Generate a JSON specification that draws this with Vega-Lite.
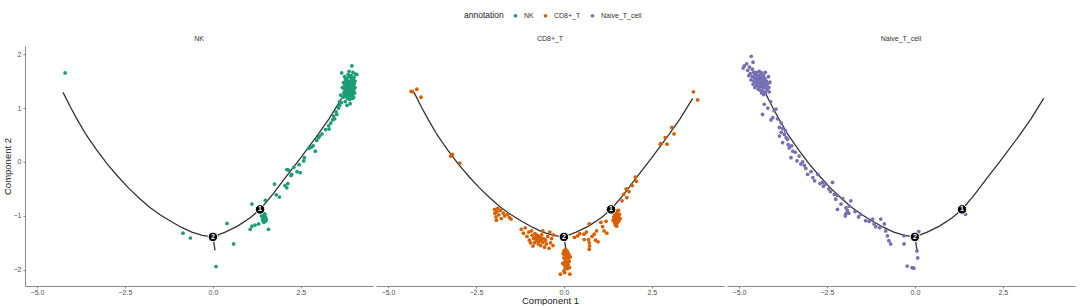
{
  "$schema": "https://vega.github.io/schema/vega-lite/v6.json",
  "autosize": {"type": "pad"},
  "padding": {"left": 2, "top": 12, "right": 2, "bottom": 0},
  "background": "white",
  "config": {
    "font": "Liberation Sans",
    "view": {"stroke": null},
    "axis": {"grid": false, "domainColor": "#8a8a8a", "domainWidth": 1, "tickColor": "#8a8a8a", "tickSize": 2, "labelFontSize": 7, "labelColor": "#4d4d4d", "labelPadding": 2, "titleFontSize": 9.5, "titleFontWeight": "normal", "titleColor": "#222222"},
    "axisX": {"labelPadding": 0},
    "title": {"fontSize": 7, "fontWeight": "normal", "color": "#333333", "offset": 4},
    "concat": {"spacing": 3},
    "legend": {"orient": "none", "legendX": 439, "legendY": -34, "direction": "horizontal", "titleOrient": "left", "titleFontSize": 8.5, "titleFontWeight": "normal", "titleColor": "#222222", "labelFontSize": 7, "labelColor": "#333333", "symbolSize": 14, "symbolType": "circle", "labelOffset": 5, "columnPadding": 8, "titlePadding": 8}
  },
  "datasets": {
    "tree": [
      {"seg": "main", "o": 1, "c1": -4.26, "c2": 1.29},
      {"seg": "main", "o": 2, "c1": -4.05, "c2": 1.02},
      {"seg": "main", "o": 3, "c1": -3.85, "c2": 0.78},
      {"seg": "main", "o": 4, "c1": -3.6, "c2": 0.5},
      {"seg": "main", "o": 5, "c1": -3.3, "c2": 0.22},
      {"seg": "main", "o": 6, "c1": -3.0, "c2": -0.04},
      {"seg": "main", "o": 7, "c1": -2.7, "c2": -0.27},
      {"seg": "main", "o": 8, "c1": -2.4, "c2": -0.48},
      {"seg": "main", "o": 9, "c1": -2.1, "c2": -0.67},
      {"seg": "main", "o": 10, "c1": -1.8, "c2": -0.84},
      {"seg": "main", "o": 11, "c1": -1.5, "c2": -0.98},
      {"seg": "main", "o": 12, "c1": -1.2, "c2": -1.1},
      {"seg": "main", "o": 13, "c1": -0.9, "c2": -1.21},
      {"seg": "main", "o": 14, "c1": -0.6, "c2": -1.3},
      {"seg": "main", "o": 15, "c1": -0.3, "c2": -1.36},
      {"seg": "main", "o": 16, "c1": 0.0, "c2": -1.39},
      {"seg": "main", "o": 17, "c1": 0.35, "c2": -1.3},
      {"seg": "main", "o": 18, "c1": 0.7, "c2": -1.19},
      {"seg": "main", "o": 19, "c1": 1.05, "c2": -1.04},
      {"seg": "main", "o": 20, "c1": 1.34, "c2": -0.88},
      {"seg": "main", "o": 21, "c1": 1.7, "c2": -0.6},
      {"seg": "main", "o": 22, "c1": 2.0, "c2": -0.34},
      {"seg": "main", "o": 23, "c1": 2.5, "c2": 0.08},
      {"seg": "main", "o": 24, "c1": 3.0, "c2": 0.52},
      {"seg": "main", "o": 25, "c1": 3.3, "c2": 0.8},
      {"seg": "main", "o": 26, "c1": 3.66, "c2": 1.18},
      {"seg": "branch", "o": 1, "c1": 0.0, "c2": -1.39},
      {"seg": "branch", "o": 2, "c1": 0.06, "c2": -1.64}
    ],
    "nodes": [
      {"node": "1", "c1": 1.34, "c2": -0.88},
      {"node": "2", "c1": 0.0, "c2": -1.39}
    ],
    "cells": [
      {"annotation": "NK", "c1": 3.70, "c2": 1.20}, {"annotation": "NK", "c1": 3.72, "c2": 1.28}, {"annotation": "NK", "c1": 3.74, "c2": 1.35}, {"annotation": "NK", "c1": 3.75, "c2": 1.42}, {"annotation": "NK", "c1": 3.76, "c2": 1.25},
      {"annotation": "NK", "c1": 3.78, "c2": 1.31}, {"annotation": "NK", "c1": 3.78, "c2": 1.48}, {"annotation": "NK", "c1": 3.79, "c2": 1.38}, {"annotation": "NK", "c1": 3.80, "c2": 1.22}, {"annotation": "NK", "c1": 3.80, "c2": 1.55},
      {"annotation": "NK", "c1": 3.81, "c2": 1.33}, {"annotation": "NK", "c1": 3.82, "c2": 1.44}, {"annotation": "NK", "c1": 3.83, "c2": 1.27}, {"annotation": "NK", "c1": 3.83, "c2": 1.36}, {"annotation": "NK", "c1": 3.84, "c2": 1.50},
      {"annotation": "NK", "c1": 3.85, "c2": 1.30}, {"annotation": "NK", "c1": 3.85, "c2": 1.40}, {"annotation": "NK", "c1": 3.86, "c2": 1.24}, {"annotation": "NK", "c1": 3.86, "c2": 1.46}, {"annotation": "NK", "c1": 3.87, "c2": 1.35},
      {"annotation": "NK", "c1": 3.87, "c2": 1.58}, {"annotation": "NK", "c1": 3.88, "c2": 1.29}, {"annotation": "NK", "c1": 3.88, "c2": 1.42}, {"annotation": "NK", "c1": 3.89, "c2": 1.37}, {"annotation": "NK", "c1": 3.90, "c2": 1.22},
      {"annotation": "NK", "c1": 3.90, "c2": 1.50}, {"annotation": "NK", "c1": 3.91, "c2": 1.32}, {"annotation": "NK", "c1": 3.92, "c2": 1.44}, {"annotation": "NK", "c1": 3.92, "c2": 1.27}, {"annotation": "NK", "c1": 3.93, "c2": 1.38},
      {"annotation": "NK", "c1": 3.94, "c2": 1.55}, {"annotation": "NK", "c1": 3.95, "c2": 1.30}, {"annotation": "NK", "c1": 3.95, "c2": 1.47}, {"annotation": "NK", "c1": 3.96, "c2": 1.36}, {"annotation": "NK", "c1": 3.97, "c2": 1.25},
      {"annotation": "NK", "c1": 3.98, "c2": 1.41}, {"annotation": "NK", "c1": 3.99, "c2": 1.52}, {"annotation": "NK", "c1": 4.00, "c2": 1.33}, {"annotation": "NK", "c1": 4.02, "c2": 1.45}, {"annotation": "NK", "c1": 4.03, "c2": 1.28},
      {"annotation": "NK", "c1": 3.68, "c2": 1.38}, {"annotation": "NK", "c1": 3.71, "c2": 1.47}, {"annotation": "NK", "c1": 3.73, "c2": 1.22}, {"annotation": "NK", "c1": 3.77, "c2": 1.53}, {"annotation": "NK", "c1": 3.82, "c2": 1.18},
      {"annotation": "NK", "c1": 3.84, "c2": 1.62}, {"annotation": "NK", "c1": 3.89, "c2": 1.16}, {"annotation": "NK", "c1": 3.93, "c2": 1.60}, {"annotation": "NK", "c1": 3.97, "c2": 1.18}, {"annotation": "NK", "c1": 4.01, "c2": 1.57},
      {"annotation": "NK", "c1": 4.04, "c2": 1.38}, {"annotation": "NK", "c1": 4.05, "c2": 1.63}, {"annotation": "NK", "c1": 3.95, "c2": 1.78}, {"annotation": "NK", "c1": 3.66, "c2": 1.65}, {"annotation": "NK", "c1": 4.09, "c2": 1.62},
      {"annotation": "NK", "c1": 3.81, "c2": 1.05}, {"annotation": "NK", "c1": 3.60, "c2": 1.12}, {"annotation": "NK", "c1": 3.63, "c2": 1.24}, {"annotation": "NK", "c1": 3.87, "c2": 1.68}, {"annotation": "NK", "c1": 3.76, "c2": 1.12},
      {"annotation": "NK", "c1": 4.00, "c2": 1.20}, {"annotation": "NK", "c1": 4.04, "c2": 1.50}, {"annotation": "NK", "c1": 3.74, "c2": 1.58}, {"annotation": "NK", "c1": 3.90, "c2": 1.08}, {"annotation": "NK", "c1": 3.98, "c2": 1.66},
      {"annotation": "NK", "c1": 3.57, "c2": 1.00}, {"annotation": "NK", "c1": 3.50, "c2": 0.93}, {"annotation": "NK", "c1": 3.52, "c2": 0.88}, {"annotation": "NK", "c1": 3.43, "c2": 0.85}, {"annotation": "NK", "c1": 3.46, "c2": 0.80},
      {"annotation": "NK", "c1": 3.35, "c2": 0.72}, {"annotation": "NK", "c1": 3.29, "c2": 0.67}, {"annotation": "NK", "c1": 3.30, "c2": 0.61}, {"annotation": "NK", "c1": 3.10, "c2": 0.52}, {"annotation": "NK", "c1": 3.03, "c2": 0.48},
      {"annotation": "NK", "c1": 3.00, "c2": 0.45}, {"annotation": "NK", "c1": 2.95, "c2": 0.40}, {"annotation": "NK", "c1": 2.91, "c2": 0.20}, {"annotation": "NK", "c1": 2.85, "c2": 0.30}, {"annotation": "NK", "c1": 2.79, "c2": 0.27},
      {"annotation": "NK", "c1": 2.72, "c2": 0.25}, {"annotation": "NK", "c1": 2.60, "c2": 0.08}, {"annotation": "NK", "c1": 2.58, "c2": 0.02}, {"annotation": "NK", "c1": 2.48, "c2": -0.20}, {"annotation": "NK", "c1": 2.45, "c2": -0.05},
      {"annotation": "NK", "c1": 2.39, "c2": -0.18}, {"annotation": "NK", "c1": 2.30, "c2": -0.10}, {"annotation": "NK", "c1": 2.24, "c2": -0.23}, {"annotation": "NK", "c1": 2.22, "c2": -0.25}, {"annotation": "NK", "c1": 2.15, "c2": -0.15},
      {"annotation": "NK", "c1": 2.13, "c2": -0.40}, {"annotation": "NK", "c1": 2.10, "c2": -0.14}, {"annotation": "NK", "c1": 2.05, "c2": -0.44}, {"annotation": "NK", "c1": 2.10, "c2": -0.48}, {"annotation": "NK", "c1": 1.89, "c2": -0.65},
      {"annotation": "NK", "c1": 1.80, "c2": -0.61}, {"annotation": "NK", "c1": 1.75, "c2": -0.41}, {"annotation": "NK", "c1": 1.49, "c2": -0.71}, {"annotation": "NK", "c1": 1.11, "c2": -0.78}, {"annotation": "NK", "c1": 3.60, "c2": 1.05},
      {"annotation": "NK", "c1": 3.65, "c2": 1.10}, {"annotation": "NK", "c1": 3.40, "c2": 0.78}, {"annotation": "NK", "c1": 3.20, "c2": 0.60},
      {"annotation": "NK", "c1": 1.40, "c2": -0.98}, {"annotation": "NK", "c1": 1.42, "c2": -1.02}, {"annotation": "NK", "c1": 1.44, "c2": -0.95}, {"annotation": "NK", "c1": 1.45, "c2": -1.05}, {"annotation": "NK", "c1": 1.46, "c2": -1.00},
      {"annotation": "NK", "c1": 1.47, "c2": -1.08}, {"annotation": "NK", "c1": 1.43, "c2": -1.10}, {"annotation": "NK", "c1": 1.48, "c2": -0.97}, {"annotation": "NK", "c1": 1.50, "c2": -1.03}, {"annotation": "NK", "c1": 1.41, "c2": -1.06},
      {"annotation": "NK", "c1": 1.45, "c2": -1.12}, {"annotation": "NK", "c1": 1.52, "c2": -1.07}, {"annotation": "NK", "c1": 1.38, "c2": -1.00}, {"annotation": "NK", "c1": 1.49, "c2": -1.10},
      {"annotation": "NK", "c1": 1.58, "c2": -1.25}, {"annotation": "NK", "c1": 1.20, "c2": -1.17}, {"annotation": "NK", "c1": 1.11, "c2": -1.19}, {"annotation": "NK", "c1": 1.06, "c2": -1.25}, {"annotation": "NK", "c1": 0.40, "c2": -1.14},
      {"annotation": "NK", "c1": 0.59, "c2": -1.52}, {"annotation": "NK", "c1": 0.09, "c2": -1.94}, {"annotation": "NK", "c1": -0.64, "c2": -1.41}, {"annotation": "NK", "c1": -0.85, "c2": -1.32}, {"annotation": "NK", "c1": 0.12, "c2": -1.37},
      {"annotation": "NK", "c1": -4.2, "c2": 1.65}, {"annotation": "NK", "c1": 1.30, "c2": -1.15},

      {"annotation": "CD8+_T", "c1": -4.34, "c2": 1.31}, {"annotation": "CD8+_T", "c1": -4.30, "c2": 1.30}, {"annotation": "CD8+_T", "c1": -4.18, "c2": 1.35}, {"annotation": "CD8+_T", "c1": -4.06, "c2": 1.20},
      {"annotation": "CD8+_T", "c1": -3.22, "c2": 0.11}, {"annotation": "CD8+_T", "c1": -3.17, "c2": 0.14}, {"annotation": "CD8+_T", "c1": -2.96, "c2": -0.02},
      {"annotation": "CD8+_T", "c1": -1.97, "c2": -0.88}, {"annotation": "CD8+_T", "c1": -1.96, "c2": -0.95}, {"annotation": "CD8+_T", "c1": -1.93, "c2": -1.02}, {"annotation": "CD8+_T", "c1": -1.90, "c2": -0.92}, {"annotation": "CD8+_T", "c1": -1.88, "c2": -0.86},
      {"annotation": "CD8+_T", "c1": -1.85, "c2": -0.98}, {"annotation": "CD8+_T", "c1": -1.80, "c2": -0.90}, {"annotation": "CD8+_T", "c1": -1.72, "c2": -0.95}, {"annotation": "CD8+_T", "c1": -1.68, "c2": -1.00}, {"annotation": "CD8+_T", "c1": -1.60, "c2": -0.97},
      {"annotation": "CD8+_T", "c1": -1.55, "c2": -1.03}, {"annotation": "CD8+_T", "c1": -1.50, "c2": -1.06}, {"annotation": "CD8+_T", "c1": -1.92, "c2": -1.08}, {"annotation": "CD8+_T", "c1": -1.78, "c2": -1.05},
      {"annotation": "CD8+_T", "c1": -1.21, "c2": -1.25}, {"annotation": "CD8+_T", "c1": -1.15, "c2": -1.32}, {"annotation": "CD8+_T", "c1": -1.10, "c2": -1.22}, {"annotation": "CD8+_T", "c1": -1.05, "c2": -1.38}, {"annotation": "CD8+_T", "c1": -1.00, "c2": -1.30},
      {"annotation": "CD8+_T", "c1": -0.98, "c2": -1.45}, {"annotation": "CD8+_T", "c1": -0.92, "c2": -1.28}, {"annotation": "CD8+_T", "c1": -0.90, "c2": -1.36}, {"annotation": "CD8+_T", "c1": -0.86, "c2": -1.42}, {"annotation": "CD8+_T", "c1": -0.84, "c2": -1.50},
      {"annotation": "CD8+_T", "c1": -0.82, "c2": -1.33}, {"annotation": "CD8+_T", "c1": -0.80, "c2": -1.40}, {"annotation": "CD8+_T", "c1": -0.78, "c2": -1.46}, {"annotation": "CD8+_T", "c1": -0.76, "c2": -1.36}, {"annotation": "CD8+_T", "c1": -0.74, "c2": -1.43},
      {"annotation": "CD8+_T", "c1": -0.73, "c2": -1.52}, {"annotation": "CD8+_T", "c1": -0.72, "c2": -1.38}, {"annotation": "CD8+_T", "c1": -0.70, "c2": -1.47}, {"annotation": "CD8+_T", "c1": -0.68, "c2": -1.40}, {"annotation": "CD8+_T", "c1": -0.66, "c2": -1.55},
      {"annotation": "CD8+_T", "c1": -0.65, "c2": -1.44}, {"annotation": "CD8+_T", "c1": -0.63, "c2": -1.35}, {"annotation": "CD8+_T", "c1": -0.60, "c2": -1.49}, {"annotation": "CD8+_T", "c1": -0.58, "c2": -1.42}, {"annotation": "CD8+_T", "c1": -0.55, "c2": -1.58},
      {"annotation": "CD8+_T", "c1": -0.52, "c2": -1.45}, {"annotation": "CD8+_T", "c1": -0.50, "c2": -1.52}, {"annotation": "CD8+_T", "c1": -0.46, "c2": -1.38}, {"annotation": "CD8+_T", "c1": -0.42, "c2": -1.60}, {"annotation": "CD8+_T", "c1": -0.38, "c2": -1.50},
      {"annotation": "CD8+_T", "c1": -0.35, "c2": -1.42}, {"annotation": "CD8+_T", "c1": -0.31, "c2": -1.55}, {"annotation": "CD8+_T", "c1": -0.40, "c2": -1.30}, {"annotation": "CD8+_T", "c1": -0.60, "c2": -1.28}, {"annotation": "CD8+_T", "c1": -0.88, "c2": -1.56},
      {"annotation": "CD8+_T", "c1": -0.95, "c2": -1.50}, {"annotation": "CD8+_T", "c1": -0.30, "c2": -1.35},
      {"annotation": "CD8+_T", "c1": 0.00, "c2": -1.65}, {"annotation": "CD8+_T", "c1": 0.05, "c2": -1.68}, {"annotation": "CD8+_T", "c1": 0.10, "c2": -1.66}, {"annotation": "CD8+_T", "c1": 0.02, "c2": -1.72}, {"annotation": "CD8+_T", "c1": 0.08, "c2": -1.74},
      {"annotation": "CD8+_T", "c1": 0.14, "c2": -1.71}, {"annotation": "CD8+_T", "c1": 0.00, "c2": -1.78}, {"annotation": "CD8+_T", "c1": 0.06, "c2": -1.80}, {"annotation": "CD8+_T", "c1": 0.12, "c2": -1.78}, {"annotation": "CD8+_T", "c1": 0.03, "c2": -1.85},
      {"annotation": "CD8+_T", "c1": 0.09, "c2": -1.86}, {"annotation": "CD8+_T", "c1": 0.15, "c2": -1.84}, {"annotation": "CD8+_T", "c1": 0.01, "c2": -1.91}, {"annotation": "CD8+_T", "c1": 0.07, "c2": -1.93}, {"annotation": "CD8+_T", "c1": 0.12, "c2": -1.90},
      {"annotation": "CD8+_T", "c1": 0.04, "c2": -1.97}, {"annotation": "CD8+_T", "c1": 0.10, "c2": -1.98}, {"annotation": "CD8+_T", "c1": 0.00, "c2": -2.02}, {"annotation": "CD8+_T", "c1": 0.16, "c2": -1.96}, {"annotation": "CD8+_T", "c1": -0.02, "c2": -1.70},
      {"annotation": "CD8+_T", "c1": 0.18, "c2": -1.76}, {"annotation": "CD8+_T", "c1": 0.05, "c2": -1.62}, {"annotation": "CD8+_T", "c1": -0.03, "c2": -1.88}, {"annotation": "CD8+_T", "c1": -0.10, "c2": -2.08}, {"annotation": "CD8+_T", "c1": 0.17, "c2": -2.08},
      {"annotation": "CD8+_T", "c1": 0.02, "c2": -2.05},
      {"annotation": "CD8+_T", "c1": 0.30, "c2": -1.40}, {"annotation": "CD8+_T", "c1": 0.39, "c2": -1.37}, {"annotation": "CD8+_T", "c1": 0.45, "c2": -1.33}, {"annotation": "CD8+_T", "c1": 0.57, "c2": -1.34}, {"annotation": "CD8+_T", "c1": 0.64, "c2": -1.30},
      {"annotation": "CD8+_T", "c1": 0.70, "c2": -1.44}, {"annotation": "CD8+_T", "c1": 0.72, "c2": -1.50}, {"annotation": "CD8+_T", "c1": 0.73, "c2": -1.56}, {"annotation": "CD8+_T", "c1": 0.72, "c2": -1.62}, {"annotation": "CD8+_T", "c1": 0.80, "c2": -1.38},
      {"annotation": "CD8+_T", "c1": 0.86, "c2": -1.34}, {"annotation": "CD8+_T", "c1": 0.90, "c2": -1.45}, {"annotation": "CD8+_T", "c1": 0.93, "c2": -1.28}, {"annotation": "CD8+_T", "c1": 0.72, "c2": -1.15}, {"annotation": "CD8+_T", "c1": 1.05, "c2": -1.12},
      {"annotation": "CD8+_T", "c1": 1.10, "c2": -1.20}, {"annotation": "CD8+_T", "c1": 1.14, "c2": -1.28}, {"annotation": "CD8+_T", "c1": 1.20, "c2": -1.10}, {"annotation": "CD8+_T", "c1": 0.97, "c2": -1.48}, {"annotation": "CD8+_T", "c1": 0.58, "c2": -1.44},
      {"annotation": "CD8+_T", "c1": 1.22, "c2": -1.32},
      {"annotation": "CD8+_T", "c1": 1.40, "c2": -0.92}, {"annotation": "CD8+_T", "c1": 1.43, "c2": -0.96}, {"annotation": "CD8+_T", "c1": 1.46, "c2": -0.90}, {"annotation": "CD8+_T", "c1": 1.48, "c2": -0.98}, {"annotation": "CD8+_T", "c1": 1.50, "c2": -0.94},
      {"annotation": "CD8+_T", "c1": 1.52, "c2": -1.00}, {"annotation": "CD8+_T", "c1": 1.42, "c2": -1.02}, {"annotation": "CD8+_T", "c1": 1.45, "c2": -1.05}, {"annotation": "CD8+_T", "c1": 1.47, "c2": -1.08}, {"annotation": "CD8+_T", "c1": 1.50, "c2": -1.04},
      {"annotation": "CD8+_T", "c1": 1.53, "c2": -1.08}, {"annotation": "CD8+_T", "c1": 1.55, "c2": -1.02}, {"annotation": "CD8+_T", "c1": 1.44, "c2": -1.12}, {"annotation": "CD8+_T", "c1": 1.48, "c2": -1.14}, {"annotation": "CD8+_T", "c1": 1.52, "c2": -1.13},
      {"annotation": "CD8+_T", "c1": 1.56, "c2": -1.10}, {"annotation": "CD8+_T", "c1": 1.46, "c2": -1.17}, {"annotation": "CD8+_T", "c1": 1.50, "c2": -1.19}, {"annotation": "CD8+_T", "c1": 1.58, "c2": -0.97}, {"annotation": "CD8+_T", "c1": 1.40, "c2": -1.08},
      {"annotation": "CD8+_T", "c1": 1.55, "c2": -0.90}, {"annotation": "CD8+_T", "c1": 1.60, "c2": -1.05},
      {"annotation": "CD8+_T", "c1": 1.70, "c2": -0.60}, {"annotation": "CD8+_T", "c1": 1.77, "c2": -0.50}, {"annotation": "CD8+_T", "c1": 1.79, "c2": -0.66}, {"annotation": "CD8+_T", "c1": 1.85, "c2": -0.55}, {"annotation": "CD8+_T", "c1": 1.94, "c2": -0.44},
      {"annotation": "CD8+_T", "c1": 2.03, "c2": -0.28}, {"annotation": "CD8+_T", "c1": 2.06, "c2": -0.36}, {"annotation": "CD8+_T", "c1": 2.74, "c2": 0.33}, {"annotation": "CD8+_T", "c1": 2.76, "c2": 0.34}, {"annotation": "CD8+_T", "c1": 2.88, "c2": 0.45},
      {"annotation": "CD8+_T", "c1": 2.93, "c2": 0.33}, {"annotation": "CD8+_T", "c1": 3.07, "c2": 0.64}, {"annotation": "CD8+_T", "c1": 3.13, "c2": 0.52}, {"annotation": "CD8+_T", "c1": 1.65, "c2": -0.72}, {"annotation": "CD8+_T", "c1": 3.68, "c2": 1.30},
      {"annotation": "CD8+_T", "c1": 3.80, "c2": 1.15},

      {"annotation": "Naive_T_cell", "c1": -4.65, "c2": 1.96}, {"annotation": "Naive_T_cell", "c1": -4.78, "c2": 1.82}, {"annotation": "Naive_T_cell", "c1": -4.85, "c2": 1.78}, {"annotation": "Naive_T_cell", "c1": -4.70, "c2": 1.76}, {"annotation": "Naive_T_cell", "c1": -4.75, "c2": 1.70},
      {"annotation": "Naive_T_cell", "c1": -4.62, "c2": 1.72}, {"annotation": "Naive_T_cell", "c1": -4.58, "c2": 1.66}, {"annotation": "Naive_T_cell", "c1": -4.68, "c2": 1.64}, {"annotation": "Naive_T_cell", "c1": -4.55, "c2": 1.62}, {"annotation": "Naive_T_cell", "c1": -4.50, "c2": 1.60},
      {"annotation": "Naive_T_cell", "c1": -4.62, "c2": 1.58}, {"annotation": "Naive_T_cell", "c1": -4.45, "c2": 1.58}, {"annotation": "Naive_T_cell", "c1": -4.40, "c2": 1.62}, {"annotation": "Naive_T_cell", "c1": -4.35, "c2": 1.65}, {"annotation": "Naive_T_cell", "c1": -4.30, "c2": 1.60},
      {"annotation": "Naive_T_cell", "c1": -4.55, "c2": 1.55}, {"annotation": "Naive_T_cell", "c1": -4.48, "c2": 1.53}, {"annotation": "Naive_T_cell", "c1": -4.42, "c2": 1.55}, {"annotation": "Naive_T_cell", "c1": -4.38, "c2": 1.52}, {"annotation": "Naive_T_cell", "c1": -4.32, "c2": 1.55},
      {"annotation": "Naive_T_cell", "c1": -4.26, "c2": 1.55}, {"annotation": "Naive_T_cell", "c1": -4.22, "c2": 1.50}, {"annotation": "Naive_T_cell", "c1": -4.58, "c2": 1.50}, {"annotation": "Naive_T_cell", "c1": -4.52, "c2": 1.48}, {"annotation": "Naive_T_cell", "c1": -4.46, "c2": 1.47},
      {"annotation": "Naive_T_cell", "c1": -4.40, "c2": 1.46}, {"annotation": "Naive_T_cell", "c1": -4.35, "c2": 1.48}, {"annotation": "Naive_T_cell", "c1": -4.28, "c2": 1.45}, {"annotation": "Naive_T_cell", "c1": -4.22, "c2": 1.42}, {"annotation": "Naive_T_cell", "c1": -4.50, "c2": 1.42},
      {"annotation": "Naive_T_cell", "c1": -4.44, "c2": 1.40}, {"annotation": "Naive_T_cell", "c1": -4.38, "c2": 1.40}, {"annotation": "Naive_T_cell", "c1": -4.32, "c2": 1.38}, {"annotation": "Naive_T_cell", "c1": -4.26, "c2": 1.38}, {"annotation": "Naive_T_cell", "c1": -4.18, "c2": 1.45},
      {"annotation": "Naive_T_cell", "c1": -4.45, "c2": 1.35}, {"annotation": "Naive_T_cell", "c1": -4.40, "c2": 1.33}, {"annotation": "Naive_T_cell", "c1": -4.34, "c2": 1.32}, {"annotation": "Naive_T_cell", "c1": -4.28, "c2": 1.30}, {"annotation": "Naive_T_cell", "c1": -4.20, "c2": 1.34},
      {"annotation": "Naive_T_cell", "c1": -4.12, "c2": 1.48}, {"annotation": "Naive_T_cell", "c1": -4.15, "c2": 1.38}, {"annotation": "Naive_T_cell", "c1": -4.60, "c2": 1.44}, {"annotation": "Naive_T_cell", "c1": -4.36, "c2": 1.28}, {"annotation": "Naive_T_cell", "c1": -4.30, "c2": 1.25},
      {"annotation": "Naive_T_cell", "c1": -4.50, "c2": 1.66}, {"annotation": "Naive_T_cell", "c1": -4.42, "c2": 1.68}, {"annotation": "Naive_T_cell", "c1": -4.72, "c2": 1.60}, {"annotation": "Naive_T_cell", "c1": -4.66, "c2": 1.52}, {"annotation": "Naive_T_cell", "c1": -4.25, "c2": 1.66},
      {"annotation": "Naive_T_cell", "c1": -4.16, "c2": 1.58}, {"annotation": "Naive_T_cell", "c1": -4.55, "c2": 1.38}, {"annotation": "Naive_T_cell", "c1": -4.33, "c2": 1.43}, {"annotation": "Naive_T_cell", "c1": -4.47, "c2": 1.51}, {"annotation": "Naive_T_cell", "c1": -4.39, "c2": 1.58},
      {"annotation": "Naive_T_cell", "c1": -4.27, "c2": 1.51}, {"annotation": "Naive_T_cell", "c1": -4.60, "c2": 1.85}, {"annotation": "Naive_T_cell", "c1": -4.88, "c2": 1.74}, {"annotation": "Naive_T_cell", "c1": -4.24, "c2": 1.28}, {"annotation": "Naive_T_cell", "c1": -4.14, "c2": 1.30},
      {"annotation": "Naive_T_cell", "c1": -4.28, "c2": 1.07}, {"annotation": "Naive_T_cell", "c1": -4.33, "c2": 0.88}, {"annotation": "Naive_T_cell", "c1": -4.04, "c2": 0.82}, {"annotation": "Naive_T_cell", "c1": -4.09, "c2": 0.78}, {"annotation": "Naive_T_cell", "c1": -3.95, "c2": 0.98},
      {"annotation": "Naive_T_cell", "c1": -3.85, "c2": 0.64}, {"annotation": "Naive_T_cell", "c1": -3.76, "c2": 0.62}, {"annotation": "Naive_T_cell", "c1": -3.85, "c2": 0.48}, {"annotation": "Naive_T_cell", "c1": -3.71, "c2": 0.51}, {"annotation": "Naive_T_cell", "c1": -3.76, "c2": 0.36},
      {"annotation": "Naive_T_cell", "c1": -3.62, "c2": 0.42}, {"annotation": "Naive_T_cell", "c1": -3.57, "c2": 0.26}, {"annotation": "Naive_T_cell", "c1": -3.52, "c2": 0.08}, {"annotation": "Naive_T_cell", "c1": -3.47, "c2": 0.20}, {"annotation": "Naive_T_cell", "c1": -3.29, "c2": 0.11},
      {"annotation": "Naive_T_cell", "c1": -3.24, "c2": -0.04}, {"annotation": "Naive_T_cell", "c1": -3.19, "c2": 0.00}, {"annotation": "Naive_T_cell", "c1": -3.14, "c2": -0.07}, {"annotation": "Naive_T_cell", "c1": -3.05, "c2": -0.23}, {"annotation": "Naive_T_cell", "c1": -2.90, "c2": -0.29},
      {"annotation": "Naive_T_cell", "c1": -2.76, "c2": -0.23}, {"annotation": "Naive_T_cell", "c1": -2.63, "c2": -0.38}, {"annotation": "Naive_T_cell", "c1": -2.53, "c2": -0.41}, {"annotation": "Naive_T_cell", "c1": -2.34, "c2": -0.38}, {"annotation": "Naive_T_cell", "c1": -2.29, "c2": -0.60},
      {"annotation": "Naive_T_cell", "c1": -2.20, "c2": -0.62}, {"annotation": "Naive_T_cell", "c1": -2.25, "c2": -0.69}, {"annotation": "Naive_T_cell", "c1": -2.20, "c2": -0.88}, {"annotation": "Naive_T_cell", "c1": -1.96, "c2": -0.85}, {"annotation": "Naive_T_cell", "c1": -1.96, "c2": -0.96},
      {"annotation": "Naive_T_cell", "c1": -1.92, "c2": -0.90}, {"annotation": "Naive_T_cell", "c1": -1.82, "c2": -0.72}, {"annotation": "Naive_T_cell", "c1": -1.87, "c2": -0.82}, {"annotation": "Naive_T_cell", "c1": -1.54, "c2": -0.97}, {"annotation": "Naive_T_cell", "c1": -1.40, "c2": -1.09},
      {"annotation": "Naive_T_cell", "c1": -1.20, "c2": -1.06}, {"annotation": "Naive_T_cell", "c1": -1.16, "c2": -1.15}, {"annotation": "Naive_T_cell", "c1": -1.11, "c2": -1.20}, {"annotation": "Naive_T_cell", "c1": -0.97, "c2": -1.06}, {"annotation": "Naive_T_cell", "c1": -0.87, "c2": -1.15},
      {"annotation": "Naive_T_cell", "c1": -0.83, "c2": -1.28}, {"annotation": "Naive_T_cell", "c1": -0.78, "c2": -1.37}, {"annotation": "Naive_T_cell", "c1": -0.74, "c2": -1.46}, {"annotation": "Naive_T_cell", "c1": -0.69, "c2": -1.52}, {"annotation": "Naive_T_cell", "c1": -0.31, "c2": -1.52},
      {"annotation": "Naive_T_cell", "c1": -0.31, "c2": -1.37}, {"annotation": "Naive_T_cell", "c1": 0.11, "c2": -1.29}, {"annotation": "Naive_T_cell", "c1": -0.22, "c2": -1.93}, {"annotation": "Naive_T_cell", "c1": -0.08, "c2": -1.96}, {"annotation": "Naive_T_cell", "c1": -0.03, "c2": -1.97},
      {"annotation": "Naive_T_cell", "c1": 0.08, "c2": -1.78}, {"annotation": "Naive_T_cell", "c1": 0.06, "c2": -1.65}, {"annotation": "Naive_T_cell", "c1": 1.44, "c2": -0.97},
      {"annotation": "Naive_T_cell", "c1": -4.10, "c2": 1.12}, {"annotation": "Naive_T_cell", "c1": -4.00, "c2": 0.95}, {"annotation": "Naive_T_cell", "c1": -3.90, "c2": 0.80}, {"annotation": "Naive_T_cell", "c1": -3.80, "c2": 0.72}, {"annotation": "Naive_T_cell", "c1": -3.68, "c2": 0.58},
      {"annotation": "Naive_T_cell", "c1": -3.60, "c2": 0.32}, {"annotation": "Naive_T_cell", "c1": -3.40, "c2": 0.18}, {"annotation": "Naive_T_cell", "c1": -3.35, "c2": 0.02}, {"annotation": "Naive_T_cell", "c1": -3.10, "c2": -0.12}, {"annotation": "Naive_T_cell", "c1": -2.95, "c2": -0.18},
      {"annotation": "Naive_T_cell", "c1": -2.85, "c2": -0.35}, {"annotation": "Naive_T_cell", "c1": -2.70, "c2": -0.40}, {"annotation": "Naive_T_cell", "c1": -2.45, "c2": -0.50}, {"annotation": "Naive_T_cell", "c1": -2.40, "c2": -0.55}, {"annotation": "Naive_T_cell", "c1": -2.10, "c2": -0.78},
      {"annotation": "Naive_T_cell", "c1": -2.05, "c2": -0.68}, {"annotation": "Naive_T_cell", "c1": -1.70, "c2": -0.92}, {"annotation": "Naive_T_cell", "c1": -1.60, "c2": -1.02}, {"annotation": "Naive_T_cell", "c1": -1.30, "c2": -1.10}, {"annotation": "Naive_T_cell", "c1": -1.00, "c2": -1.22},
      {"annotation": "Naive_T_cell", "c1": -3.50, "c2": 0.30}, {"annotation": "Naive_T_cell", "c1": -3.80, "c2": 0.55}, {"annotation": "Naive_T_cell", "c1": -4.18, "c2": 1.00}, {"annotation": "Naive_T_cell", "c1": -3.66, "c2": 0.45}, {"annotation": "Naive_T_cell", "c1": -2.60, "c2": -0.45},
      {"annotation": "Naive_T_cell", "c1": -1.98, "c2": -1.00}, {"annotation": "Naive_T_cell", "c1": -1.88, "c2": -0.95}
    ]
  },
  "hconcat": [
    {
      "width": 348, "height": 240,
      "title": {"text": "NK", "anchor": "middle"},
      "layer": [
        {"data": {"name": "tree"}, "mark": {"type": "line", "color": "#333333", "strokeWidth": 1.3},
         "encoding": {"x": {"field": "c1", "type": "quantitative", "scale": {"domain": [-5.34, 4.55], "nice": false, "zero": false}, "axis": {"values": [-5, -2.5, 0, 2.5], "format": ".1f", "title": null}},
                      "y": {"field": "c2", "type": "quantitative", "scale": {"domain": [-2.3, 2.15], "nice": false, "zero": false}, "axis": {"values": [-2, -1, 0, 1, 2], "title": "Component 2", "titlePadding": 1}},
                      "detail": {"field": "seg"}, "order": {"field": "o"}}},
        {"data": {"name": "cells"}, "transform": [{"filter": "datum.annotation === 'NK'"}], "mark": {"type": "circle", "size": 14, "opacity": 1},
         "encoding": {"x": {"field": "c1", "type": "quantitative"}, "y": {"field": "c2", "type": "quantitative"},
                      "color": {"field": "annotation", "type": "nominal", "title": "annotation", "scale": {"domain": ["NK", "CD8+_T", "Naive_T_cell"], "range": ["#1B9E77", "#D95F02", "#7570B3"]}}}},
        {"data": {"name": "nodes"}, "mark": {"type": "circle", "size": 90, "color": "black", "opacity": 1, "stroke": "white", "strokeWidth": 1},
         "encoding": {"x": {"field": "c1", "type": "quantitative"}, "y": {"field": "c2", "type": "quantitative"}}},
        {"data": {"name": "nodes"}, "mark": {"type": "text", "color": "white", "fontSize": 7, "fontWeight": "bold", "baseline": "middle", "align": "center"},
         "encoding": {"x": {"field": "c1", "type": "quantitative"}, "y": {"field": "c2", "type": "quantitative"}, "text": {"field": "node"}}}
      ]
    },
    {
      "width": 348, "height": 240,
      "title": {"text": "CD8+_T", "anchor": "middle"},
      "layer": [
        {"data": {"name": "tree"}, "mark": {"type": "line", "color": "#333333", "strokeWidth": 1.3},
         "encoding": {"x": {"field": "c1", "type": "quantitative", "scale": {"domain": [-5.34, 4.55], "nice": false, "zero": false}, "axis": {"values": [-5, -2.5, 0, 2.5], "format": ".1f", "title": "Component 1", "titlePadding": 0}},
                      "y": {"field": "c2", "type": "quantitative", "scale": {"domain": [-2.3, 2.15], "nice": false, "zero": false}, "axis": null},
                      "detail": {"field": "seg"}, "order": {"field": "o"}}},
        {"data": {"name": "cells"}, "transform": [{"filter": "datum.annotation === 'CD8+_T'"}], "mark": {"type": "circle", "size": 14, "opacity": 1},
         "encoding": {"x": {"field": "c1", "type": "quantitative"}, "y": {"field": "c2", "type": "quantitative"},
                      "color": {"field": "annotation", "type": "nominal", "title": "annotation", "scale": {"domain": ["NK", "CD8+_T", "Naive_T_cell"], "range": ["#1B9E77", "#D95F02", "#7570B3"]}}}},
        {"data": {"name": "nodes"}, "mark": {"type": "circle", "size": 90, "color": "black", "opacity": 1, "stroke": "white", "strokeWidth": 1},
         "encoding": {"x": {"field": "c1", "type": "quantitative"}, "y": {"field": "c2", "type": "quantitative"}}},
        {"data": {"name": "nodes"}, "mark": {"type": "text", "color": "white", "fontSize": 7, "fontWeight": "bold", "baseline": "middle", "align": "center"},
         "encoding": {"x": {"field": "c1", "type": "quantitative"}, "y": {"field": "c2", "type": "quantitative"}, "text": {"field": "node"}}}
      ]
    },
    {
      "width": 348, "height": 240,
      "title": {"text": "Naive_T_cell", "anchor": "middle"},
      "layer": [
        {"data": {"name": "tree"}, "mark": {"type": "line", "color": "#333333", "strokeWidth": 1.3},
         "encoding": {"x": {"field": "c1", "type": "quantitative", "scale": {"domain": [-5.34, 4.55], "nice": false, "zero": false}, "axis": {"values": [-5, -2.5, 0, 2.5], "format": ".1f", "title": null}},
                      "y": {"field": "c2", "type": "quantitative", "scale": {"domain": [-2.3, 2.15], "nice": false, "zero": false}, "axis": null},
                      "detail": {"field": "seg"}, "order": {"field": "o"}}},
        {"data": {"name": "cells"}, "transform": [{"filter": "datum.annotation === 'Naive_T_cell'"}], "mark": {"type": "circle", "size": 14, "opacity": 1},
         "encoding": {"x": {"field": "c1", "type": "quantitative"}, "y": {"field": "c2", "type": "quantitative"},
                      "color": {"field": "annotation", "type": "nominal", "title": "annotation", "scale": {"domain": ["NK", "CD8+_T", "Naive_T_cell"], "range": ["#1B9E77", "#D95F02", "#7570B3"]}}}},
        {"data": {"name": "nodes"}, "mark": {"type": "circle", "size": 90, "color": "black", "opacity": 1, "stroke": "white", "strokeWidth": 1},
         "encoding": {"x": {"field": "c1", "type": "quantitative"}, "y": {"field": "c2", "type": "quantitative"}}},
        {"data": {"name": "nodes"}, "mark": {"type": "text", "color": "white", "fontSize": 7, "fontWeight": "bold", "baseline": "middle", "align": "center"},
         "encoding": {"x": {"field": "c1", "type": "quantitative"}, "y": {"field": "c2", "type": "quantitative"}, "text": {"field": "node"}}}
      ]
    }
  ]
}
